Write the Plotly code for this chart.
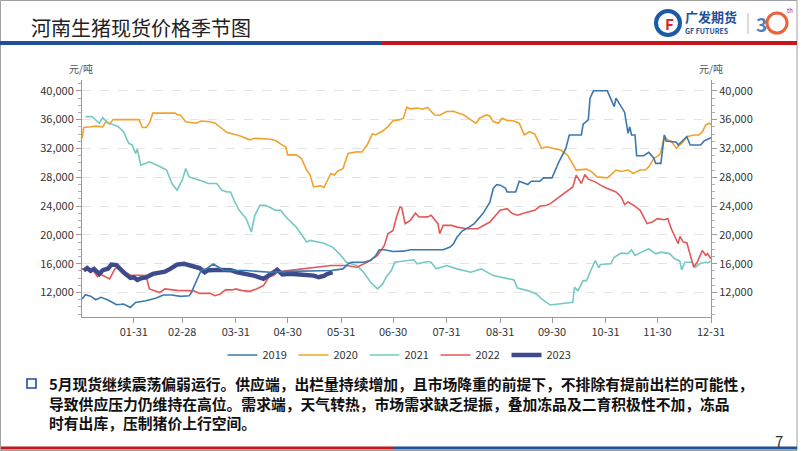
import pandas as pd
import plotly.graph_objects as go

# ---------------- data (day-of-year offsets from Jan 1, price in 元/吨) ----------------
days_2019 = [0, 2, 5, 8, 11, 15, 20, 24, 28, 31, 37, 43, 47, 52, 57, 62, 63, 66, 69, 72, 76, 79, 82, 95, 109, 115,
             130, 140, 144, 147, 151, 154, 156, 163, 167, 170, 172, 175, 180, 186, 190, 200, 209, 213, 215, 217, 220,
             224, 227, 232, 236, 238, 240, 242, 245, 246, 251, 253, 258, 260, 265, 267, 272, 276, 280, 282, 289, 290,
             293, 294, 296, 304, 307, 308, 309, 312, 314, 316, 317, 318, 320, 321, 325, 328, 331, 332, 335, 337, 338,
             344, 345, 348, 350, 352, 358, 360, 364]
vals_2019 = [11100, 11700, 11500, 11000, 11330, 10960, 10310, 10400, 9930, 10630, 10860, 11240, 11660, 11660, 11470,
             11560, 11840, 13600, 15100, 15300, 15950, 15500, 15050, 15050, 14810, 14900, 14950, 14950, 15050, 15140,
             15280, 15980, 16200, 16200, 16440, 17140, 17930, 17930, 17700, 17740, 17930, 17930, 17930, 18300, 18770,
             19690, 20530, 21080, 21560, 22950, 24500, 26440, 26990, 26900, 26500, 25960, 25960, 27450, 26990, 27450,
             27450, 27920, 27920, 30150, 32010, 33870, 33870, 35360, 35960, 38980, 40000, 40000, 38280, 37810, 38980,
             37800, 37030, 34100, 35000, 33870, 33870, 30990, 30990, 31450, 30620, 29920, 29920, 33870, 33040, 32850,
             32470, 33170, 33640, 32470, 32470, 33040, 33500]

days_2020 = [0, 1, 5, 8, 12, 14, 16, 18, 33, 35, 37, 39, 41, 54, 55, 57, 60, 66, 69, 74, 77, 81, 84, 89, 92, 97, 100,
             108, 112, 115, 118, 119, 124, 127, 130, 132, 134, 138, 140, 144, 146, 148, 151, 154, 159, 162, 165, 168,
             170, 174, 177, 180, 184, 186, 188, 190, 194, 197, 200, 204, 207, 211, 215, 218, 221, 225, 228, 230, 234,
             236, 238, 241, 243, 246, 250, 253, 256, 259, 262, 266, 269, 273, 277, 281, 284, 286, 292, 295, 298, 304,
             307, 309, 312, 316, 319, 323, 326, 328, 331, 334, 335, 337, 339, 341, 344, 348, 350, 354, 357, 359, 361,
             363, 364]
vals_2020 = [33400, 34900, 35000, 35100, 35000, 35800, 35400, 36000, 36000, 34900, 34900, 35500, 36900, 36900, 36700,
             36600, 35700, 35500, 35800, 35700, 35500, 34800, 34200, 33900, 33700, 33200, 33400, 33300, 33100, 32600,
             32200, 31100, 31100, 30600, 29000, 28300, 26660, 26800, 26570, 28520, 28300, 28850, 29200, 31300, 31540,
             31500, 32470, 34000, 33900, 34420, 35030, 35860, 36000, 36200, 37730, 37500, 37600, 37450, 37680, 36650,
             36600, 37120, 37150, 36900, 36650, 35960, 35500, 36190, 36650, 36500, 35730, 35500, 36190, 35900, 35810,
             35500, 33870, 34330, 34000, 32010, 32240, 32000, 31780, 31080, 29700, 29000, 29130, 28750, 28050, 27920,
             28530, 29000, 28800, 29000, 28530, 29000, 29000, 29450, 30620, 31080, 31500, 33730, 33170, 33000, 32010,
             32940, 33640, 33870, 33870, 34330, 35260, 35500, 35300]

days_2021 = [2, 6, 10, 12, 15, 17, 21, 24, 27, 29, 31, 32, 34, 39, 45, 49, 52, 55, 58, 60, 62, 66, 70, 73, 78, 81, 84,
             86, 88, 91, 95, 98, 100, 103, 106, 109, 112, 115, 118, 124, 130, 132, 140, 145, 149, 153, 159, 163, 167,
             171, 174, 176, 179, 181, 184, 190, 192, 194, 200, 202, 205, 211, 217, 225, 231, 238, 248, 250, 252, 258,
             263, 266, 271, 284, 285, 287, 290, 292, 294, 297, 299, 300, 306, 308, 312, 316, 318, 320, 323, 328, 332,
             335, 340, 343, 346, 347, 349, 353, 355, 358, 361, 362, 364]
vals_2021 = [36420, 36400, 35500, 36280, 35500, 35400, 35030, 34330, 32710, 32500, 31310, 31900, 29680, 30150, 29500,
             29000, 27130, 26200, 27590, 29220, 28050, 27800, 27450, 27130, 27130, 26200, 25960, 25960, 24800, 23410,
             22260, 20400, 22720, 24110, 24100, 23800, 23400, 23410, 22480, 21080, 19000, 19230, 18850, 18300, 17370,
             16200, 15740, 14810, 13420, 12500, 13190, 14120, 15050, 16200, 16300, 16540, 16540, 15980, 16300, 16200,
             15280, 15740, 15280, 14810, 15280, 14350, 13890, 13750, 12630, 12260, 11790, 11100, 10260, 10630, 12720,
             12260, 13650, 13650, 14810, 16440, 15420, 15880, 15980, 16900, 17460, 17400, 17930, 17140, 17500, 18070,
             17370, 17600, 17400, 16680, 16350, 15140, 16200, 16200, 15510, 16070, 16200, 16100, 16350]

days_2022 = [0, 3, 6, 9, 11, 16, 19, 21, 25, 28, 33, 37, 39, 42, 45, 48, 55, 62, 65, 68, 74, 77, 80, 83, 87, 89, 92, 97,
             101, 105, 108, 111, 113, 118, 128, 136, 144, 153, 159, 165, 171, 175, 177, 180, 182, 184, 185, 187, 190,
             193, 195, 200, 202, 206, 207, 209, 214, 217, 223, 229, 233, 236, 242, 246, 249, 252, 256, 262, 265, 269,
             271, 275, 281, 284, 286, 289, 291, 293, 297, 300, 304, 309, 312, 314, 316, 320, 323, 327, 330, 333, 337,
             339, 341, 345, 346, 348, 350, 352, 354, 356, 359, 361, 362, 364]
vals_2022 = [15280, 15100, 15200, 14210, 14500, 13890, 15280, 15500, 14810, 14400, 14400, 14350, 12500, 12260, 12000,
             12500, 12300, 12260, 12200, 11880, 11880, 11560, 11800, 12360, 12360, 12500, 12300, 12160, 12500, 12960,
             14120, 14400, 14810, 15000, 15280, 15600, 15740, 15740, 15510, 16200, 17140, 18530, 20160, 20620, 22480,
             23870, 23800, 21560, 22020, 23040, 22480, 22500, 22720, 21560, 20160, 21320, 21320, 21080, 20860, 20860,
             21320, 21780, 23410, 23640, 22950, 22720, 23040, 23410, 23970, 24110, 24340, 25040, 26200, 26660, 28290,
             27130, 28390, 27730, 27360, 26900, 26440, 25960, 25270, 24210, 24570, 24000, 23410, 21560, 21800, 22260,
             22100, 22260, 20860, 18770, 19790, 19000, 18900, 17140, 15510, 16200, 17830, 17140, 17400, 16680]

days_2023 = [1, 3, 5, 7, 9, 10, 12, 15, 17, 20, 24, 28, 30, 32, 34, 37, 41, 45, 48, 51, 55, 59, 64, 66, 68, 71, 73, 80,
             86, 90, 95, 100, 105, 108, 111, 113, 116, 120, 126, 132, 134, 137, 140, 142, 145]
vals_2023 = [15050, 15400, 15000, 15280, 14810, 14580, 15100, 15300, 15880, 15800, 14810, 14030, 14120, 13750, 13950,
             14100, 14580, 14810, 14900, 15280, 15880, 15980, 15740, 15600, 15400, 14810, 15100, 15140, 15100, 14800,
             14580, 14300, 13890, 14300, 14810, 15140, 14490, 14600, 14500, 14400, 14350, 14120, 14300, 14580, 14810]

years = ["2019", "2020", "2021", "2022", "2023"]
series_days = [days_2019, days_2020, days_2021, days_2022, days_2023]
series_vals = [vals_2019, vals_2020, vals_2021, vals_2022, vals_2023]

tick_dates = ["2023-01-31", "2023-02-28", "2023-03-31", "2023-04-30", "2023-05-31", "2023-06-30",
              "2023-07-31", "2023-08-31", "2023-09-30", "2023-10-31", "2023-11-30", "2023-12-31"]
tick_labels = ["01-31", "02-28", "03-31", "04-30", "05-31", "06-30",
               "07-31", "08-31", "09-30", "10-31", "11-30", "12-31"]

title_text = "河南生猪现货价格季节图"
body_lines = [
    "5月现货继续震荡偏弱运行。供应端，出栏量持续增加，且市场降重的前提下，不排除有提前出栏的可能性，",
    "导致供应压力仍维持在高位。需求端，天气转热，市场需求缺乏提振，叠加冻品及二育积极性不加，冻品",
    "时有出库，压制猪价上行空间。",
]

# ---------------- styling ----------------
colors = ["#3b78ad", "#f0a22e", "#76c8c4", "#e3585a", "#3d4a8c"]
widths = [1.6, 1.6, 1.6, 1.6, 4.4]
FONT = "Noto Sans CJK SC"
W, H = 802, 451
L, R, T, B = 82, 91, 80, 134
PW, PH = W - L - R, H - T - B


def px(x):
    return (x - L) / PW


def py(y):
    return (H - B - y) / PH


base = pd.Timestamp("2023-01-01")
fig = go.Figure()
for i, (yr, d, v) in enumerate(zip(years, series_days, series_vals)):
    dates = [base + pd.Timedelta(days=k) for k in d]
    fig.add_trace(go.Scatter(
        x=dates, y=v, name=yr, mode="lines",
        line=dict(color=colors[i], width=widths[i]),
        yaxis="y2" if i == 0 else "y",
    ))

yr_range = [8600, 41500]
axis_common = dict(
    range=yr_range, tickvals=[12000, 16000, 20000, 24000, 28000, 32000, 36000, 40000],
    tickformat=",d", showline=True, linecolor="#9a9a9a", linewidth=1,
    ticks="outside", ticklen=5, tickcolor="#9a9a9a",
    tickfont=dict(family=FONT, size=11, color="#333333"),
    minor=dict(dtick=1000, ticks="outside", ticklen=3, tickcolor="#b0b0b0", showgrid=False),
    zeroline=False,
)
fig.update_layout(
    width=W, height=H,
    margin=dict(l=L, r=R, t=T, b=B),
    paper_bgcolor="white", plot_bgcolor="white",
    xaxis=dict(
        type="date", range=["2023-01-01", "2023-12-31"],
        tickvals=tick_dates, ticktext=tick_labels,
        showline=True, linecolor="#9a9a9a", linewidth=1,
        ticks="outside", ticklen=5, tickcolor="#9a9a9a",
        tickfont=dict(family=FONT, size=11, color="#333333"),
        showgrid=False, zeroline=False,
    ),
    yaxis=dict(**axis_common, side="left", showgrid=True, gridcolor="#e3e3e3", griddash="dash", gridwidth=1),
    yaxis2=dict(**axis_common, side="right", overlaying="y", showgrid=False),
    legend=dict(
        orientation="h", x=px(400), xanchor="center", y=py(355), yanchor="middle",
        font=dict(family=FONT, size=11, color="#333333"), itemwidth=30,
        entrywidth=26, bgcolor="rgba(0,0,0,0)",
    ),
    showlegend=True,
)

shapes = []
# slide frame
shapes.append(dict(type="rect", xref="paper", yref="paper", x0=px(0.5), x1=px(797), y0=py(0.5), y1=py(450.5),
                   line=dict(color="#a0a0a0", width=1), fillcolor="rgba(0,0,0,0)", layer="below"))
# title underline (blue then red)
shapes.append(dict(type="line", xref="paper", yref="paper", x0=px(0), x1=px(381), y0=py(43), y1=py(43),
                   line=dict(color="#1d4f9a", width=4)))
shapes.append(dict(type="line", xref="paper", yref="paper", x0=px(381), x1=px(797), y0=py(43), y1=py(43),
                   line=dict(color="#c4161c", width=4)))
# bottom line (red then blue)
shapes.append(dict(type="line", xref="paper", yref="paper", x0=px(1), x1=px(394), y0=py(448), y1=py(448),
                   line=dict(color="#c4161c", width=3)))
shapes.append(dict(type="line", xref="paper", yref="paper", x0=px(394), x1=px(797), y0=py(448), y1=py(448),
                   line=dict(color="#1d4f9a", width=3)))
# bullet square
shapes.append(dict(type="rect", xref="paper", yref="paper", x0=px(27), x1=px(36), y0=py(379), y1=py(388),
                   line=dict(color="#1d4f9a", width=1.6), fillcolor="white"))
# logo: ring + separator
shapes.append(dict(type="circle", xref="paper", yref="paper", x0=px(656), x1=px(680), y0=py(11), y1=py(35),
                   line=dict(color="#1c5aa8", width=4), fillcolor="white"))
shapes.append(dict(type="line", xref="paper", yref="paper", x0=px(748), x1=px(748), y0=py(13), y1=py(34),
                   line=dict(color="#b8b8b8", width=1)))
shapes.append(dict(type="circle", xref="paper", yref="paper", x0=px(767), x1=px(787), y0=py(13), y1=py(33),
                   line=dict(color="#e8623a", width=3), fillcolor="rgba(0,0,0,0)"))
fig.update_layout(shapes=shapes)

ann = []
ann.append(dict(text=title_text, xref="paper", yref="paper", x=px(29), y=py(27), xanchor="left", yanchor="middle",
                showarrow=False, font=dict(family=FONT, size=20, color="#222222")))
ann.append(dict(text="元/吨", xref="paper", yref="paper", x=px(81), y=py(69), xanchor="center", yanchor="middle",
                showarrow=False, font=dict(family=FONT, size=10, color="#555555")))
ann.append(dict(text="元/吨", xref="paper", yref="paper", x=px(711), y=py(69), xanchor="center", yanchor="middle",
                showarrow=False, font=dict(family=FONT, size=10, color="#555555")))
for k, line in enumerate(body_lines):
    ann.append(dict(text="<b>" + line + "</b>", xref="paper", yref="paper", x=px(47), y=py(384 + 19 * k),
                    xanchor="left", yanchor="middle", showarrow=False,
                    font=dict(family=FONT, size=14.8, color="#111111")))
ann.append(dict(text="7", xref="paper", yref="paper", x=px(779), y=py(440), xanchor="center", yanchor="middle",
                showarrow=False, font=dict(family=FONT, size=15, color="#333333")))
# logo texts
ann.append(dict(text="<b>F</b>", xref="paper", yref="paper", x=px(669), y=py(23), xanchor="center", yanchor="middle",
                showarrow=False, font=dict(family=FONT, size=15, color="#d9262b")))
ann.append(dict(text="<b>广发期货</b>", xref="paper", yref="paper", x=px(683), y=py(17), xanchor="left", yanchor="middle",
                showarrow=False, font=dict(family=FONT, size=13, color="#1c4f9c")))
ann.append(dict(text="<b>GF FUTURES</b>", xref="paper", yref="paper", x=px(683), y=py(31), xanchor="left", yanchor="middle",
                showarrow=False, font=dict(family=FONT, size=7, color="#1c4f9c")))
ann.append(dict(text="<b>3</b>", xref="paper", yref="paper", x=px(761), y=py(23), xanchor="center", yanchor="middle",
                showarrow=False, font=dict(family=FONT, size=19, color="#4a7fc1")))
ann.append(dict(text="th", xref="paper", yref="paper", x=px(785), y=py(10), xanchor="left", yanchor="middle",
                showarrow=False, font=dict(family=FONT, size=6, color="#c4161c")))
fig.update_layout(annotations=ann)

fig.write_html("out.html", config={"displayModeBar": False},
               post_script="document.body.style.margin='0px';document.body.style.overflow='hidden';")
